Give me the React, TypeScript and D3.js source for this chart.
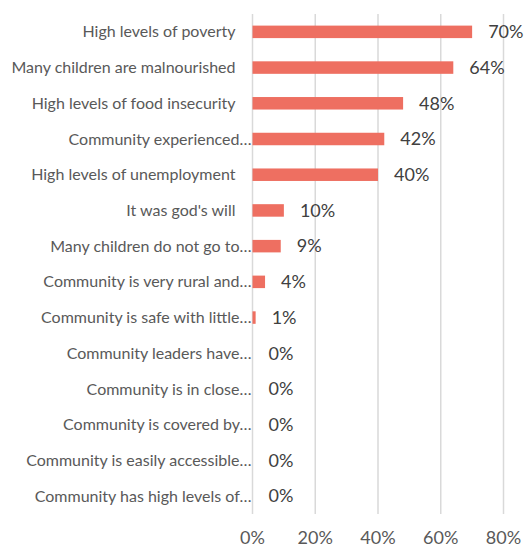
import React from "react";
import * as d3 from "d3";

const categories = [
  "High levels of poverty",
  "Many children are malnourished",
  "High levels of food insecurity",
  "Community experienced…",
  "High levels of unemployment",
  "It was god's will",
  "Many children do not go to…",
  "Community is very rural and…",
  "Community is safe with little…",
  "Community leaders have…",
  "Community is in close…",
  "Community is covered by…",
  "Community is easily accessible…",
  "Community has high levels of…",
];
const values = [70, 64, 48, 42, 40, 10, 9, 4, 1, 0, 0, 0, 0, 0];
const ticks = [0, 20, 40, 60, 80];

const W = 525;
const H = 547;
const FONT = "Lato, 'Open Sans', sans-serif";

export default function App() {
  const x = d3.scaleLinear().domain([0, 80]).range([252.5, 503.5]);
  const y = d3.scaleBand<string>().domain(categories).range([14, 514]).paddingInner(0.65).paddingOuter(0.325);
  const bw = y.bandwidth();
  return (
    <svg width={W} height={H} style={{ position: "absolute", left: 0, top: 0, background: "#fff" }}>
      {ticks.map((t) => (
        <line key={t} x1={x(t)} x2={x(t)} y1={14} y2={514} stroke="#d9d9d9" strokeWidth={1.5} />
      ))}
      {categories.map((c, i) => {
        const yc = (y(c) as number) + bw / 2;
        const trunc = c.endsWith("…");
        return (
          <g key={c}>
            <rect x={x(0)} y={y(c)} width={x(values[i]) - x(0)} height={bw} fill="#EE6F61" />
            <text
              x={trunc ? x(0) - 1 : x(0) - 17}
              y={yc}
              dy="0.35em"
              textAnchor="end"
              fontFamily={FONT}
              fontSize={16}
              fill="#595959"
            >
              {c}
            </text>
            <text x={x(values[i]) + 16} y={yc} dy="0.35em" fontFamily={FONT} fontSize={18} fill="#404040">
              {values[i] + "%"}
            </text>
          </g>
        );
      })}
      {ticks.map((t) => (
        <text key={t} x={x(t)} y={538} dy="0.35em" textAnchor="middle" fontFamily={FONT} fontSize={18} fill="#595959">
          {t + "%"}
        </text>
      ))}
    </svg>
  );
}
